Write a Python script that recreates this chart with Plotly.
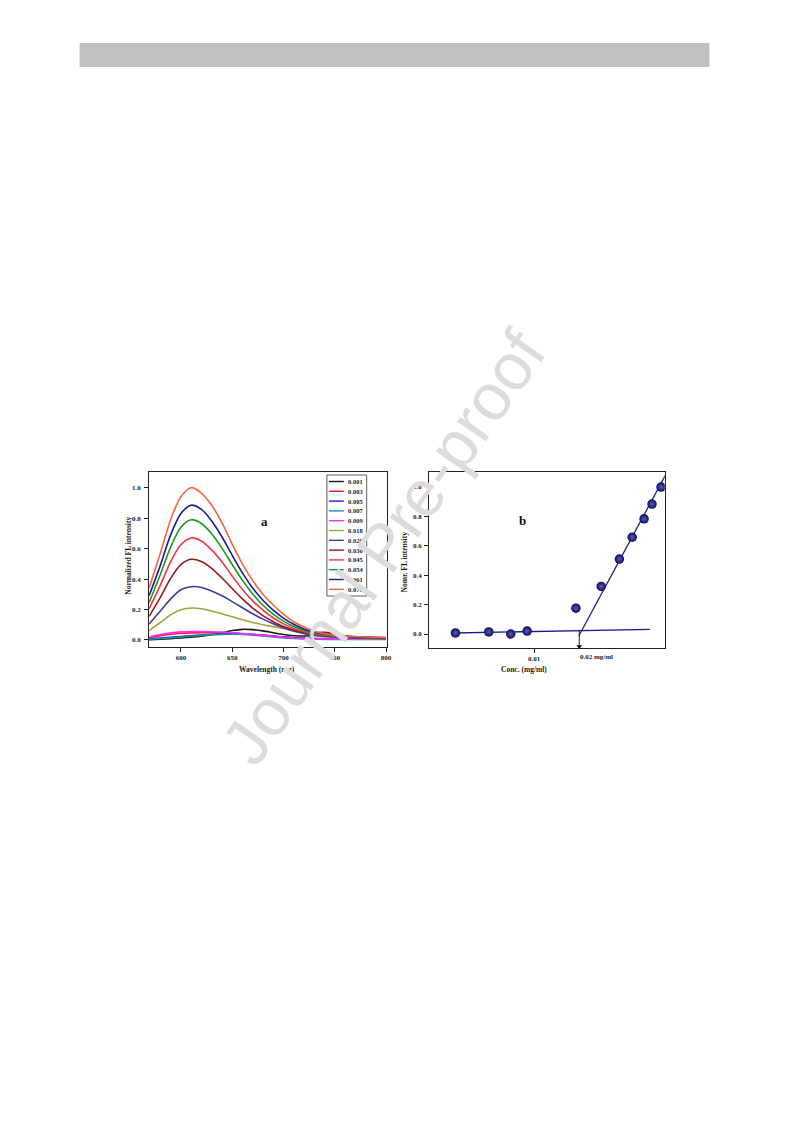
import math
import plotly.graph_objects as go

# page is 793x1123; the html body adds an 8px margin, keep some slack so the page never scrolls
PAGE_W, PAGE_H, OFF = 793, 1123, 8
W, H = PAGE_W - 2 * OFF, PAGE_H - 2 * OFF - 14

# ---------------- Panel a data: FL spectra ----------------
wavelength = [569, 580, 590, 600, 610, 620, 630, 640, 650, 660, 670, 680, 690, 700,
              710, 720, 730, 740, 750, 760, 780, 800]

conc_labels = ["0.001", "0.003", "0.005", "0.007", "0.009", "0.018",
               "0.028", "0.036", "0.045", "0.054", "0.061", "0.070"]
colors = ["#1a1a1a", "#ff1a1a", "#1a1aff", "#1f9090", "#ff2bff", "#a3a33a",
          "#3c3cae", "#8e1c1c", "#f0344a", "#1a9a1a", "#1c1c96", "#f2683c"]

s_0001 = [0.002, 0.005, 0.009, 0.013, 0.018, 0.025, 0.035, 0.048, 0.062, 0.070, 0.068, 0.060,
          0.048, 0.036, 0.028, 0.026, 0.032, 0.042, 0.036, 0.022, 0.012, 0.010]
s_0003 = [0.015, 0.028, 0.038, 0.044, 0.047, 0.048, 0.048, 0.047, 0.045, 0.041, 0.036, 0.030,
          0.024, 0.019, 0.015, 0.012, 0.010, 0.009, 0.008, 0.007, 0.006, 0.006]
s_0005 = [0.008, 0.013, 0.018, 0.023, 0.028, 0.032, 0.036, 0.039, 0.041, 0.040, 0.037, 0.032,
          0.026, 0.020, 0.015, 0.011, 0.009, 0.008, 0.007, 0.006, 0.005, 0.005]
s_0007 = [0.006, 0.010, 0.015, 0.020, 0.025, 0.030, 0.034, 0.037, 0.038, 0.036, 0.032, 0.026,
          0.020, 0.014, 0.010, 0.007, 0.005, 0.004, 0.004, 0.003, 0.003, 0.003]
s_0009 = [0.020, 0.035, 0.047, 0.053, 0.055, 0.055, 0.054, 0.052, 0.048, 0.043, 0.037, 0.030,
          0.024, 0.018, 0.013, 0.010, 0.008, 0.007, 0.006, 0.005, 0.005, 0.005]
s_0018 = [0.062, 0.115, 0.165, 0.198, 0.210, 0.205, 0.190, 0.172, 0.152, 0.133, 0.115, 0.100,
          0.088, 0.075, 0.058, 0.042, 0.030, 0.022, 0.016, 0.012, 0.009, 0.008]
s_0028 = [0.105, 0.190, 0.270, 0.330, 0.350, 0.345, 0.322, 0.290, 0.252, 0.212, 0.172, 0.137,
          0.106, 0.080, 0.059, 0.043, 0.032, 0.025, 0.019, 0.015, 0.011, 0.009]
s_0036 = [0.155, 0.280, 0.405, 0.495, 0.530, 0.515, 0.470, 0.407, 0.338, 0.270, 0.210, 0.160,
          0.120, 0.088, 0.065, 0.050, 0.048, 0.050, 0.040, 0.028, 0.018, 0.014]
s_0045 = [0.205, 0.360, 0.515, 0.625, 0.670, 0.650, 0.592, 0.513, 0.420, 0.332, 0.257, 0.196,
          0.146, 0.106, 0.076, 0.055, 0.042, 0.033, 0.027, 0.022, 0.016, 0.013]
s_0054 = [0.245, 0.430, 0.610, 0.740, 0.790, 0.765, 0.697, 0.603, 0.495, 0.392, 0.302, 0.228,
          0.170, 0.124, 0.088, 0.062, 0.046, 0.036, 0.029, 0.023, 0.017, 0.014]
s_0061 = [0.290, 0.490, 0.690, 0.830, 0.885, 0.857, 0.782, 0.678, 0.556, 0.441, 0.341, 0.261,
          0.196, 0.144, 0.103, 0.072, 0.052, 0.039, 0.031, 0.025, 0.019, 0.015]
s_0070 = [0.340, 0.570, 0.790, 0.940, 1.000, 0.965, 0.885, 0.770, 0.630, 0.500, 0.390, 0.300,
          0.230, 0.170, 0.120, 0.085, 0.058, 0.042, 0.032, 0.026, 0.020, 0.017]
spectra = [s_0001, s_0003, s_0005, s_0007, s_0009, s_0018,
           s_0028, s_0036, s_0045, s_0054, s_0061, s_0070]

# ---------------- Panel b data ----------------
b_conc = [0.003, 0.005, 0.007, 0.009, 0.019, 0.028, 0.037, 0.045, 0.054, 0.061, 0.070]
b_int = [0.007, 0.014, 0.000, 0.020, 0.175, 0.323, 0.509, 0.657, 0.782, 0.882, 0.998]
flat_x = [0.003, 0.059]
flat_y = [0.007, 0.032]
steep_x = [0.0199, 0.075]
steep_y = [-0.012, 1.08]
lod = 0.02

a_xticks = [600, 650, 700, 750, 800]
yticks = [0.0, 0.2, 0.4, 0.6, 0.8, 1.0]


def fx(px):
    return (px - OFF) / W


def fy(py):
    return 1 - (py - OFF) / H


SERIF = "Liberation Serif"
navy = "#1d1d86"

fig = go.Figure()

for lab, col, ys in zip(conc_labels, colors, spectra):
    fig.add_trace(go.Scatter(x=wavelength, y=ys, mode="lines", name=lab,
                             line=dict(color=col, width=1.6, shape="spline", smoothing=0.8),
                             xaxis="x", yaxis="y", showlegend=False))

fig.add_trace(go.Scatter(x=flat_x, y=flat_y, mode="lines", line=dict(color=navy, width=1.3),
                         xaxis="x2", yaxis="y2", showlegend=False))
fig.add_trace(go.Scatter(x=steep_x, y=steep_y, mode="lines", line=dict(color=navy, width=1.3),
                         xaxis="x2", yaxis="y2", showlegend=False))
fig.add_trace(go.Scatter(x=[lod, lod], y=[0.02, -0.085], mode="lines",
                         line=dict(color="#111111", width=0.9),
                         xaxis="x2", yaxis="y2", showlegend=False))
fig.add_trace(go.Scatter(x=[lod], y=[-0.085], mode="markers",
                         marker=dict(symbol="triangle-down", size=5, color="#111111"),
                         xaxis="x2", yaxis="y2", showlegend=False))
fig.add_trace(go.Scatter(x=b_conc, y=b_int, mode="markers",
                         marker=dict(size=9.5, color="#0c0c5e",
                                     gradient=dict(type="radial", color="#5a5ab8"),
                                     line=dict(width=0)),
                         xaxis="x2", yaxis="y2", showlegend=False))

tickfont = dict(family=SERIF, size=7, color="#222222", weight="bold")
axis_common = dict(showline=True, linecolor="#222222", linewidth=1, mirror=True,
                   ticks="outside", tickwidth=1, tickcolor="#222222",
                   showgrid=False, zeroline=False, tickfont=tickfont)

fig.update_layout(
    width=W, height=H, margin=dict(l=0, r=0, t=0, b=0),
    paper_bgcolor="white", plot_bgcolor="white", showlegend=False,
    xaxis=dict(domain=[fx(150), fx(389)], range=[569, 800.5], tickvals=a_xticks,
               ticklen=4, anchor="y", **axis_common),
    yaxis=dict(domain=[fy(647), fy(472)], range=[-0.046, 1.103], tickvals=yticks,
               tickformat=".1f", ticklen=4, ticklabelstandoff=2, anchor="x", **axis_common),
    xaxis2=dict(domain=[fx(432), fx(669)], type="log", range=[-2.697, -1.130],
                tickvals=[0.01], ticktext=["0.01"], ticklen=4, anchor="y2", **axis_common),
    yaxis2=dict(domain=[fy(648), fy(472)], range=[-0.095, 1.10], tickvals=yticks,
                tickformat=".1f", ticklen=4, ticklabelstandoff=1, anchor="x2", **axis_common),
)

shapes = [dict(type="rect", xref="paper", yref="paper", x0=fx(80), x1=fx(714),
               y0=fy(67), y1=fy(43), fillcolor="#c0c1bf", line=dict(width=0), layer="below")]
annotations = []

# legend of panel a, drawn manually
leg_top, leg_step = 481.5, 9.8
shapes.append(dict(type="rect", xref="paper", yref="paper", x0=fx(329), x1=fx(369),
                   y0=fy(596), y1=fy(475), line=dict(color="#333333", width=0.8),
                   fillcolor="white", layer="above"))
for i, (lab, col) in enumerate(zip(conc_labels, colors)):
    yy = leg_top + i * leg_step
    shapes.append(dict(type="line", xref="paper", yref="paper", x0=fx(331), x1=fx(346),
                       y0=fy(yy), y1=fy(yy), line=dict(color=col, width=1.4), layer="above"))
    annotations.append(dict(xref="paper", yref="paper", x=fx(348), y=fy(yy), text=lab,
                            showarrow=False, xanchor="left", yanchor="middle",
                            font=dict(family=SERIF, size=6.5, color="#222222", weight="bold")))

titlefont = dict(family=SERIF, size=7.5, color="#222222", weight="bold")
annotations += [
    dict(xref="paper", yref="paper", x=fx(269), y=fy(669), text="Wavelength (nm)",
         showarrow=False, font=titlefont),
    dict(xref="paper", yref="paper", x=fx(553), y=fy(669), text="Conc. (mg/ml)",
         showarrow=False, font=titlefont),
    dict(xref="paper", yref="paper", x=fx(122), y=fy(556), text="Normalized FL intensity",
         showarrow=False, textangle=-90, font=titlefont),
    dict(xref="paper", yref="paper", x=fx(407), y=fy(562), text="Nomr. FL intensity",
         showarrow=False, textangle=-90, font=titlefont),
    dict(xref="x2", yref="paper", x=math.log10(lod), y=fy(657), text="0.02 mg/ml",
         showarrow=False, xanchor="left", xshift=-1, font=tickfont),
    dict(xref="paper", yref="paper", x=fx(261), y=fy(521), text="a", showarrow=False,
         font=dict(family=SERIF, size=13, color="#111111", weight="bold")),
    dict(xref="paper", yref="paper", x=fx(526), y=fy(520), text="b", showarrow=False,
         font=dict(family=SERIF, size=13, color="#111111", weight="bold")),
    dict(xref="paper", yref="paper", x=fx(386), y=fy(547), text="Journal Pre-proof",
         showarrow=False, textangle=-55,
         font=dict(family="Liberation Sans", size=66, color="#dcdcdc")),
]

fig.update_layout(shapes=shapes, annotations=annotations)
fig.write_html("out.html")
